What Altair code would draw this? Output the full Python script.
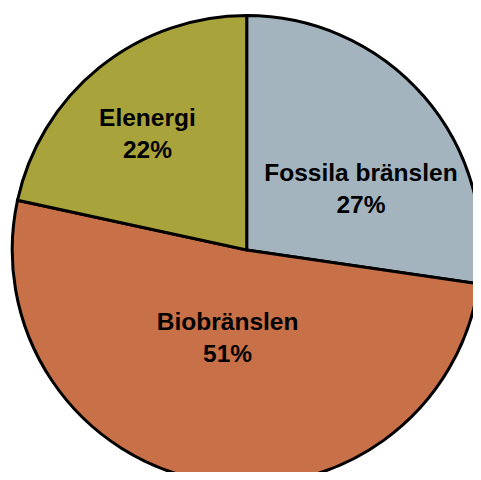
import math
import altair as alt
import pandas as pd

categories = ["Fossila bränslen", "Biobränslen", "Elenergi"]
shares = [27.3, 51.1, 21.6]
colors = ["#A3B4BF", "#C87048", "#A8A33A"]

df = pd.DataFrame({"kategori": categories, "andel": shares, "ordning": [0, 1, 2]})

W, H = 465, 464
CX, CY = 238.7, 242
R = 234.5

theta = alt.Theta("andel:Q", stack=True)
color = alt.Color("kategori:N", scale=alt.Scale(domain=categories, range=colors), legend=None)
order = alt.Order("ordning:Q")

base = alt.Chart(df)

pie = base.mark_arc(stroke="black", strokeWidth=3, radius=R).encode(
    theta=theta, color=color, order=order,
    x=alt.value(CX), y=alt.value(CY),
)

label_style = {
    "Fossila bränslen": dict(radius=129, thetaOffset=0.230),
    "Biobränslen": dict(radius=90.6, thetaOffset=0.033),
    "Elenergi": dict(radius=152, thetaOffset=-0.033),
}

layers = [pie]
for cat in categories:
    st = label_style[cat]
    t = base.transform_calculate(
        lbl="datum.kategori + '\\n' + round(datum.andel) + '%'"
    ).mark_text(
        font="Liberation Sans", fontWeight="bold", fontSize=24.5,
        lineBreak="\n", lineHeight=32, align="center", baseline="middle",
        color="black", radius=st["radius"], thetaOffset=st["thetaOffset"], dy=-16,
    ).encode(
        theta=theta, order=order, text="lbl:N",
        x=alt.value(CX), y=alt.value(CY),
        opacity=alt.condition(alt.datum.kategori == cat, alt.value(1), alt.value(0)),
    )
    layers.append(t)

chart = alt.layer(*layers).properties(
    width=W, height=H, padding=0,
    autosize=alt.AutoSizeParams(type="none"),
).configure_view(stroke=None)

chart.save("out.html", embed_options={"renderer": "svg", "actions": False})
